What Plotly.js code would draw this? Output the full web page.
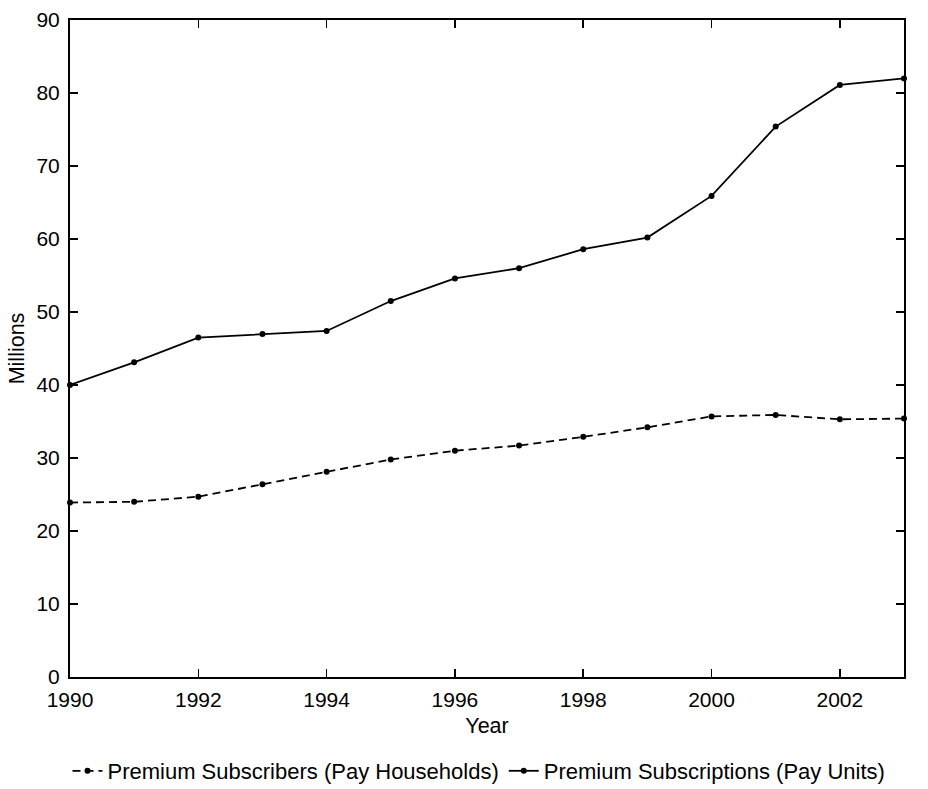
<!DOCTYPE html>
<html>
<head>
<meta charset="utf-8">
<script src="https://cdn.plot.ly/plotly-3.0.1.min.js"></script>
<style>html,body{margin:0;padding:0;background:#fff;}#chart{width:928px;height:789px;}</style>
</head>
<body>
<div id="chart"></div>
<script>
const years = [1990,1991,1992,1993,1994,1995,1996,1997,1998,1999,2000,2001,2002,2003];
const payHouseholds = [23.9,24.0,24.7,26.4,28.1,29.8,31.0,31.7,32.9,34.2,35.7,35.9,35.3,35.4];
const payUnits = [40.0,43.1,46.5,47.0,47.4,51.5,54.6,56.0,58.6,60.2,65.9,75.4,81.1,82.0];
const seriesNames = ["Premium Subscribers (Pay Households)", "Premium Subscriptions (Pay Units)"];

const fam = "Liberation Sans, Arial, sans-serif";
const tickFont = {family: fam, size: 21, color: "#000"};
const titleFont = {family: fam, size: 21.5, color: "#000"};
const legendFont = {family: fam, size: 22, color: "#000"};

const traces = [
  {x: years, y: payHouseholds, name: seriesNames[0], type: "scatter", mode: "lines+markers",
   line: {color: "#000", width: 1.8, dash: "8px,5px"}, marker: {color: "#000", size: 6}, cliponaxis: false},
  {x: years, y: payUnits, name: seriesNames[1], type: "scatter", mode: "lines+markers",
   line: {color: "#000", width: 1.8}, marker: {color: "#000", size: 6}, cliponaxis: false}
];

const layout = {
  width: 928, height: 789,
  margin: {l: 70, r: 24, t: 20, b: 112, autoexpand: false},
  paper_bgcolor: "#fff", plot_bgcolor: "#fff",
  font: tickFont,
  showlegend: true,
  legend: {orientation: "h", xref: "container", x: 479 / 928, xanchor: "center",
           yref: "container", y: 1 - 771 / 789, yanchor: "middle",
           font: legendFont, bgcolor: "rgba(0,0,0,0)", itemwidth: 30, tracegroupgap: 0},
  xaxis: {range: [1990, 2003], dtick: 2, tick0: 1990, ticks: "inside", ticklen: 8, tickwidth: 1.5,
          tickcolor: "#000", showline: true, linecolor: "#000", linewidth: 2, mirror: "ticks",
          showgrid: false, zeroline: false, tickfont: tickFont, ticklabelstandoff: 3,
          title: {text: "Year", font: titleFont, standoff: 8}},
  yaxis: {range: [0, 90], dtick: 10, ticks: "inside", ticklen: 8, tickwidth: 1.5,
          tickcolor: "#000", showline: true, linecolor: "#000", linewidth: 2, mirror: "ticks",
          showgrid: false, zeroline: false, tickfont: tickFont, ticklabelstandoff: 4,
          title: {text: "Millions", font: titleFont, standoff: 6}}
};

Plotly.newPlot("chart", traces, layout, {displayModeBar: false, staticPlot: true});
</script>
</body>
</html>
